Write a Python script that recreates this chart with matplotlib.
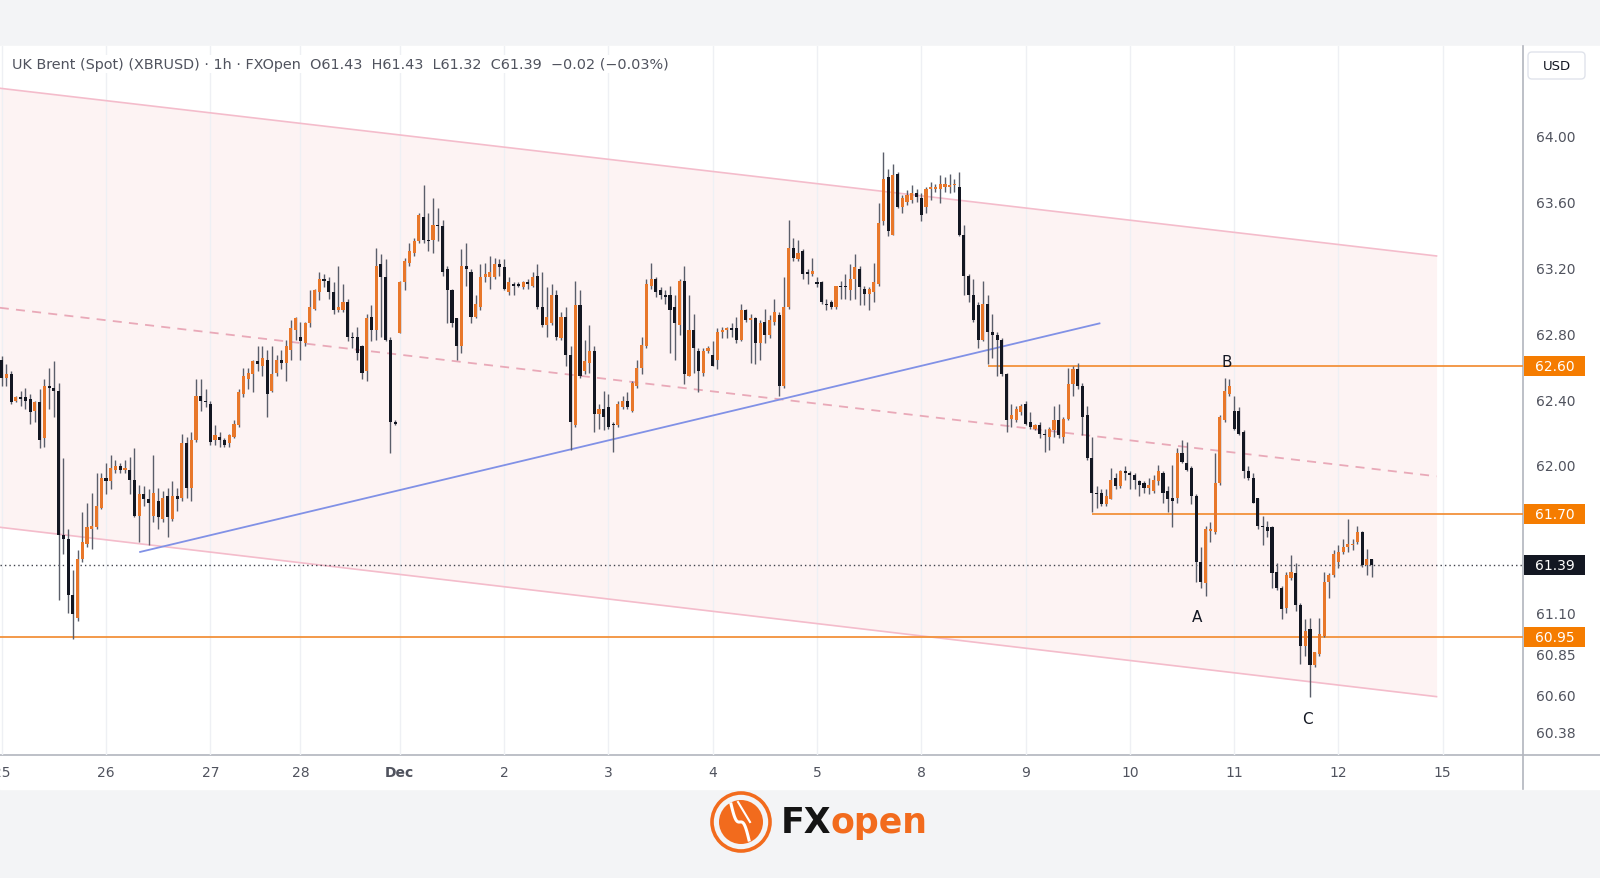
import numpy as np
import matplotlib
matplotlib.use("Agg")
import matplotlib.pyplot as plt
import matplotlib.transforms as mtransforms
from matplotlib.patches import Rectangle, FancyBboxPatch, Circle

plt.rcParams['font.family'] = ['DejaVu Sans']

# ---------------- data ----------------
session_labels = ["25", "26", "27", "28", "Dec", "2", "3", "4", "5", "8", "9", "10", "11", "12", "15"]
session_lengths = [22, 22, 19, 21, 22, 22, 22, 22, 22, 22, 22, 22, 22, 22]

opens = [
    62.64, 62.53, 62.55, 62.39, 62.41, 62.41, 62.40, 62.33, 62.38, 62.16, 62.48, 62.47, 62.45, 61.57, 61.55, 61.21, 61.07, 61.43, 61.52, 61.61, 61.62, 61.74,
    61.92, 61.90, 61.97, 61.99, 61.97, 61.97, 61.91, 61.69, 61.82, 61.79, 61.69, 61.78, 61.67, 61.81, 61.67, 61.81, 61.80, 62.13, 61.86, 62.15, 62.42, 62.39,
    62.37, 62.15, 62.17, 62.15, 62.13, 62.17, 62.24, 62.43, 62.52, 62.55, 62.63, 62.60, 62.64, 62.45, 62.56, 62.64, 62.62, 62.70, 62.82,
    62.78, 62.74, 62.86, 62.95, 63.05, 63.13, 63.12, 63.05, 62.94, 62.94, 62.99, 62.78, 62.78, 62.72, 62.57, 62.90, 62.82, 63.22, 63.14, 62.76, 62.26,
    62.80, 63.11, 63.23, 63.29, 63.36, 63.51, 63.37, 63.37, 63.46, 63.45, 63.19, 63.06, 62.89, 62.72, 63.21, 63.17, 62.90, 62.96, 63.14, 63.14, 63.14, 63.22,
    63.20, 63.05, 63.10, 63.10, 63.08, 63.11, 63.09, 63.15, 62.96, 62.85, 62.86, 63.03, 62.77, 62.90, 62.67, 62.24, 62.97, 62.57, 62.62, 62.69, 62.31, 62.34,
    62.35, 62.25, 62.24, 62.35, 62.39, 62.33, 62.48, 62.59, 62.72, 63.09, 63.13, 63.06, 63.03, 63.03, 62.96, 62.85, 63.12, 62.54, 62.82, 62.69, 62.56, 62.69,
    62.67, 62.64, 62.81, 62.82, 62.83, 62.83, 62.76, 62.94, 62.88, 62.89, 62.74, 62.87, 62.79, 62.87, 62.91, 62.48, 62.96, 63.32, 63.25, 63.30, 63.17, 63.16,
    63.11, 63.11, 62.98, 62.99, 62.96, 63.09, 63.09, 63.06, 63.13, 63.19, 63.07, 63.04, 63.05, 63.10, 63.48, 63.75, 63.40, 63.77, 63.57, 63.60, 63.61, 63.65,
    63.62, 63.57, 63.68, 63.68, 63.68, 63.69, 63.69, 63.70, 63.69, 63.40, 63.15, 63.03, 62.97, 62.76, 62.98, 62.81, 62.79, 62.76, 62.55, 62.28, 62.27, 62.32,
    62.37, 62.26, 62.22, 62.24, 62.19, 62.17, 62.21, 62.27, 62.17, 62.28, 62.49, 62.58, 62.48, 62.30, 62.04, 61.83, 61.83, 61.76, 61.79, 61.92, 61.87, 61.96,
    61.95, 61.94, 61.90, 61.89, 61.86, 61.84, 61.90, 61.95, 61.84, 61.80, 61.80, 62.07, 62.01, 61.98, 61.81, 61.41, 61.28, 61.60, 61.59, 61.89, 62.27, 62.43,
    62.33, 62.33, 62.20, 61.96, 61.92, 61.80, 61.63, 61.62, 61.62, 61.35, 61.25, 61.13, 61.31, 61.34, 61.15, 60.90, 61.00, 60.78, 60.85, 60.96, 61.29, 61.33,
    61.41, 61.47, 61.50, 61.51, 61.53, 61.59, 61.39, 61.43,
]
highs = [
    62.66, 62.61, 62.57, 62.42, 62.45, 62.47, 62.43, 62.39, 62.46, 62.52, 62.59, 62.63, 62.50, 62.04, 61.61, 61.36, 61.48, 61.71, 61.77, 61.83, 61.95, 61.95,
    62.01, 62.06, 62.03, 62.01, 62.03, 62.05, 62.10, 61.88, 61.87, 61.85, 62.06, 61.86, 61.84, 61.86, 61.90, 61.86, 62.19, 62.17, 62.20, 62.52, 62.52, 62.46,
    62.39, 62.24, 62.20, 62.16, 62.19, 62.27, 62.46, 62.59, 62.59, 62.64, 62.72, 62.72, 62.70, 62.72, 62.67, 62.70, 62.76, 62.88, 62.90,
    62.87, 62.87, 63.06, 63.07, 63.17, 63.16, 63.14, 63.11, 63.21, 63.10, 63.01, 62.81, 62.84, 62.73, 62.92, 62.97, 63.32, 63.28, 63.25, 62.78, 62.27,
    63.12, 63.26, 63.35, 63.38, 63.53, 63.70, 63.53, 63.62, 63.56, 63.49, 63.21, 63.07, 62.89, 63.31, 63.35, 63.19, 63.03, 63.22, 63.23, 63.27, 63.26, 63.25,
    63.25, 63.14, 63.11, 63.11, 63.12, 63.13, 63.17, 63.22, 63.17, 63.08, 63.10, 63.06, 62.93, 62.96, 62.72, 63.12, 63.06, 62.76, 62.85, 62.72, 62.37, 62.45,
    62.43, 62.26, 62.39, 62.42, 62.44, 62.51, 62.64, 62.78, 63.13, 63.23, 63.14, 63.08, 63.06, 63.09, 63.03, 63.13, 63.21, 63.03, 62.92, 62.71, 62.71, 62.72,
    62.75, 62.83, 62.84, 62.84, 62.86, 62.90, 62.98, 62.95, 62.92, 62.90, 62.88, 62.95, 62.91, 63.01, 62.93, 63.14, 63.49, 63.38, 63.37, 63.31, 63.19, 63.26,
    63.14, 63.12, 63.01, 63.00, 63.09, 63.12, 63.16, 63.22, 63.28, 63.21, 63.09, 63.08, 63.23, 63.59, 63.90, 63.80, 63.83, 63.78, 63.64, 63.67, 63.70, 63.68,
    63.65, 63.69, 63.72, 63.71, 63.76, 63.75, 63.77, 63.74, 63.78, 63.46, 63.16, 63.13, 62.99, 63.12, 63.03, 62.92, 62.81, 62.77, 62.56, 62.37, 62.36, 62.37,
    62.39, 62.32, 62.25, 62.26, 62.22, 62.23, 62.36, 62.37, 62.29, 62.59, 62.60, 62.62, 62.50, 62.36, 62.17, 61.87, 61.85, 61.85, 61.98, 61.95, 61.97, 61.99,
    61.96, 61.95, 61.91, 61.90, 61.92, 61.94, 62.00, 61.96, 61.87, 62.00, 62.10, 62.15, 62.14, 61.99, 61.82, 61.50, 61.63, 61.65, 62.07, 62.30, 62.53, 62.52,
    62.42, 62.35, 62.21, 61.99, 61.95, 61.80, 61.69, 61.66, 61.63, 61.40, 61.26, 61.35, 61.45, 61.40, 61.16, 61.06, 61.07, 60.86, 61.07, 61.35, 61.34, 61.48,
    61.51, 61.55, 61.67, 61.55, 61.63, 61.60, 61.49, 61.43,
]
lows = [
    62.48, 62.48, 62.37, 62.38, 62.36, 62.34, 62.25, 62.26, 62.10, 62.11, 62.34, 62.29, 61.18, 61.46, 61.10, 60.94, 61.05, 61.41, 61.50, 61.49, 61.61, 61.73,
    61.82, 61.85, 61.95, 61.95, 61.95, 61.82, 61.68, 61.53, 61.75, 61.51, 61.65, 61.61, 61.65, 61.56, 61.66, 61.72, 61.78, 61.80, 61.78, 62.14, 62.33, 62.35,
    62.12, 62.12, 62.11, 62.11, 62.11, 62.16, 62.23, 62.41, 62.46, 62.44, 62.57, 62.54, 62.29, 62.44, 62.54, 62.58, 62.51, 62.64, 62.76,
    62.64, 62.72, 62.84, 62.94, 63.00, 63.08, 63.01, 62.92, 62.93, 62.93, 62.75, 62.71, 62.64, 62.52, 62.51, 62.75, 62.76, 62.78, 62.75, 62.07, 62.24,
    62.80, 63.06, 63.21, 63.27, 63.35, 63.35, 63.30, 63.29, 63.36, 63.15, 62.86, 62.84, 62.64, 62.68, 63.09, 62.86, 62.89, 62.94, 63.11, 63.07, 63.13, 63.15,
    63.06, 63.03, 63.03, 63.08, 63.07, 63.07, 63.08, 62.95, 62.84, 62.78, 62.85, 62.76, 62.76, 62.60, 62.09, 62.23, 62.53, 62.55, 62.56, 62.20, 62.22, 62.21,
    62.22, 62.08, 62.23, 62.34, 62.34, 62.32, 62.47, 62.55, 62.71, 63.07, 63.02, 63.01, 62.98, 62.68, 62.64, 62.79, 62.49, 62.54, 62.56, 62.44, 62.54, 62.68,
    62.60, 62.58, 62.77, 62.77, 62.78, 62.74, 62.75, 62.87, 62.62, 62.61, 62.64, 62.74, 62.77, 62.85, 62.42, 62.47, 62.95, 63.24, 63.24, 63.13, 63.10, 63.15,
    63.08, 62.98, 62.94, 62.95, 62.95, 63.01, 63.01, 63.00, 63.01, 62.97, 62.97, 62.94, 62.99, 63.09, 63.46, 63.39, 63.40, 63.56, 63.53, 63.58, 63.59, 63.60,
    63.48, 63.53, 63.61, 63.66, 63.59, 63.66, 63.65, 63.66, 63.39, 63.03, 62.99, 62.87, 62.71, 62.75, 62.61, 62.65, 62.54, 62.54, 62.20, 62.23, 62.26, 62.30,
    62.24, 62.22, 62.21, 62.16, 62.08, 62.09, 62.17, 62.16, 62.13, 62.27, 62.42, 62.46, 62.18, 62.03, 61.71, 61.74, 61.75, 61.75, 61.79, 61.85, 61.86, 61.91,
    61.85, 61.85, 61.81, 61.83, 61.82, 61.83, 61.88, 61.77, 61.71, 61.62, 61.77, 62.01, 61.96, 61.76, 61.29, 61.25, 61.20, 61.53, 61.58, 61.88, 62.26, 62.42,
    62.21, 62.18, 61.92, 61.91, 61.77, 61.61, 61.51, 61.56, 61.25, 61.24, 61.06, 61.10, 61.30, 61.11, 60.79, 60.84, 60.59, 60.77, 60.84, 60.95, 61.19, 61.32,
    61.37, 61.46, 61.47, 61.48, 61.52, 61.38, 61.33, 61.32,
]
closes = [
    62.53, 62.55, 62.38, 62.41, 62.40, 62.39, 62.32, 62.38, 62.15, 62.48, 62.47, 62.45, 61.57, 61.55, 61.21, 61.09, 61.43, 61.53, 61.62, 61.63, 61.75, 61.92,
    61.90, 61.98, 61.99, 61.97, 61.98, 61.91, 61.69, 61.82, 61.79, 61.77, 61.83, 61.68, 61.80, 61.68, 61.81, 61.79, 62.13, 61.86, 62.15, 62.42, 62.39, 62.38,
    62.14, 62.18, 62.15, 62.12, 62.18, 62.25, 62.44, 62.54, 62.56, 62.63, 62.61, 62.65, 62.43, 62.55, 62.64, 62.62, 62.72, 62.83, 62.89,
    62.75, 62.86, 62.96, 63.06, 63.13, 63.12, 63.05, 62.94, 62.96, 62.99, 62.78, 62.77, 62.68, 62.56, 62.89, 62.82, 63.21, 63.14, 62.76, 62.26, 62.25,
    63.11, 63.24, 63.30, 63.36, 63.52, 63.37, 63.36, 63.46, 63.45, 63.17, 63.06, 62.86, 62.72, 63.21, 63.19, 62.90, 62.98, 63.14, 63.16, 63.17, 63.22, 63.20,
    63.07, 63.11, 63.09, 63.09, 63.11, 63.10, 63.14, 62.96, 62.85, 62.90, 63.03, 62.78, 62.90, 62.67, 62.26, 62.97, 62.54, 62.63, 62.69, 62.31, 62.34, 62.29,
    62.23, 62.24, 62.37, 62.39, 62.35, 62.50, 62.59, 62.73, 63.10, 63.13, 63.05, 63.03, 63.02, 62.94, 62.86, 63.12, 62.55, 62.82, 62.71, 62.57, 62.69, 62.71,
    62.60, 62.81, 62.82, 62.83, 62.82, 62.76, 62.94, 62.88, 62.89, 62.74, 62.86, 62.79, 62.88, 62.93, 62.48, 62.96, 63.32, 63.26, 63.29, 63.16, 63.16, 63.18,
    63.10, 62.99, 62.97, 62.96, 63.09, 63.08, 63.08, 63.13, 63.20, 63.08, 63.04, 63.07, 63.11, 63.47, 63.74, 63.42, 63.76, 63.57, 63.62, 63.64, 63.65, 63.63,
    63.52, 63.68, 63.69, 63.69, 63.71, 63.71, 63.70, 63.71, 63.40, 63.15, 63.03, 62.88, 62.76, 62.98, 62.81, 62.79, 62.76, 62.55, 62.27, 62.30, 62.34, 62.36,
    62.25, 62.23, 62.24, 62.19, 62.18, 62.22, 62.27, 62.18, 62.28, 62.49, 62.58, 62.48, 62.29, 62.04, 61.83, 61.82, 61.76, 61.81, 61.91, 61.87, 61.96, 61.95,
    61.94, 61.91, 61.88, 61.86, 61.88, 61.91, 61.96, 61.83, 61.79, 61.78, 62.07, 62.02, 61.97, 61.81, 61.41, 61.29, 61.61, 61.61, 61.89, 62.29, 62.45, 62.48,
    62.22, 62.19, 61.96, 61.92, 61.77, 61.63, 61.62, 61.60, 61.34, 61.25, 61.12, 61.33, 61.35, 61.15, 60.90, 60.99, 60.78, 60.86, 60.97, 61.29, 61.33, 61.46,
    61.47, 61.50, 61.52, 61.52, 61.59, 61.39, 61.43, 61.39,
]

price_ticks = [64.00, 63.60, 63.20, 62.80, 62.40, 62.00, 61.10, 60.85, 60.60, 60.38]
levels = [62.60, 61.70, 60.95]
level_start = [208, 230, -0.4]          # bar index where each horizontal ray starts

channel_x = [-0.4, 302.7]
channel_upper = [64.29, 63.27]
channel_lower = [61.62, 60.59]
trend_x = [29.2, 231.6]
trend_y = [61.47, 62.86]

wave_labels = ["A", "B", "C"]
wave_x = [252.2, 258.4, 275.4]
wave_y = [61.08, 62.63, 60.46]

header = "UK Brent (Spot) (XBRUSD) · 1h · FXOpen  O61.43  H61.43  L61.32  C61.39  −0.02 (−0.03%)"

# ---------------- style ----------------
UP = '#e8772a'
DOWN = '#131722'
WICK = '#5a5e6a'
ORANGE_LINE = '#f2913a'
ORANGE_BOX = '#f57c00'
PINK_LINE = '#f4bccb'
PINK_FILL = '#fdf3f3'
BLUE = '#8191e6'
GRID = '#eef0f4'
TXT = '#50535e'
AXLINE = '#b2b5be'
BAND = '#f3f4f6'

W, H = 1600, 879
fig = plt.figure(figsize=(W / 100, H / 100), dpi=100)

bg = fig.add_axes([0, 0, 1, 1])
bg.set_xlim(0, W)
bg.set_ylim(H, 0)
bg.axis('off')
bg.add_patch(Rectangle((0, 0), W, H, color=BAND, zorder=0))
bg.add_patch(Rectangle((0, 47), W, 743, color='white', zorder=1))
bg.plot([0, W], [756, 756], color=AXLINE, lw=1.2, zorder=3)
bg.plot([1523, 1523], [47, 790], color=AXLINE, lw=1.2, zorder=3)

x_right_px = 1523
ax = fig.add_axes([0, 1 - 756 / H, x_right_px / W, (756 - 47) / H])
ax.set_facecolor('none')
for s in ax.spines.values():
    s.set_visible(False)

n = len(closes)
idx = np.arange(n)
o = np.array(opens); h = np.array(highs); l = np.array(lows); c = np.array(closes)
assert len(o) == len(h) == len(l) == n

px_per_bar = 4.74
x_left = -0.36
x_right = x_left + x_right_px / px_per_bar
ax.set_xlim(x_left, x_right)
ax.set_ylim(60.235, 64.547)

starts = np.concatenate([[0], np.cumsum(session_lengths)])
for s in starts:
    ax.axvline(s, color=GRID, lw=1, zorder=0.6)

# channel
cx = np.array(channel_x)
cu = np.array(channel_upper)
cl = np.array(channel_lower)
ax.fill_between(cx, cl, cu, color=PINK_FILL, zorder=0.5, lw=0)
ax.plot(cx, cu, color=PINK_LINE, lw=1.2, zorder=1)
ax.plot(cx, cl, color=PINK_LINE, lw=1.2, zorder=1)
ax.plot(cx, (cu + cl) / 2, color='#e9a9b8', lw=1.3, ls=(0, (5, 4)), zorder=1)

# trendline
ax.plot(trend_x, trend_y, color=BLUE, lw=1.3, zorder=1.2)

# levels
for lv, st in zip(levels, level_start):
    ax.hlines(lv, st, x_right, color=ORANGE_LINE, lw=1.3, zorder=1.3)
ax.axhline(closes[-1], color='#3f424c', lw=1, ls=(0, (1, 2.2)), zorder=1.3)

# candles
up = c >= o
cols = np.where(up, UP, DOWN)
ax.vlines(idx, l, h, color=WICK, lw=1, zorder=2)
body = np.maximum(np.abs(c - o), 0.007)
ax.bar(idx, body, bottom=np.minimum(o, c), width=0.66, color=cols, lw=0, zorder=3)

# wave labels
for t, x, y in zip(wave_labels, wave_x, wave_y):
    ax.text(x, y, t, ha='center', va='center', fontsize=11, color='#131722', zorder=5)

# axes ticks
ax.set_xticks(starts)
ax.set_xticklabels(session_labels)
ax.tick_params(axis='x', length=0, pad=7, labelcolor=TXT, labelsize=10)
for lab in ax.get_xticklabels():
    if lab.get_text() == 'Dec':
        lab.set_fontweight('bold')
ax.yaxis.tick_right()
ax.set_yticks(price_ticks)
ax.set_yticklabels([f"{v:.2f}" for v in price_ticks])
ax.tick_params(axis='y', length=0, pad=9.5, labelcolor=TXT, labelsize=10)

# price label boxes on axis
blend = mtransforms.blended_transform_factory(bg.transData, ax.transData)
box_h = 0.122
for lv, fc in [(levels[0], ORANGE_BOX), (levels[1], ORANGE_BOX), (closes[-1], '#131722'), (levels[2], ORANGE_BOX)]:
    ax.add_patch(Rectangle((1524, lv - box_h / 2), 61, box_h, transform=blend, fc=fc, ec='none',
                           clip_on=False, zorder=10))
    ax.text(1555, lv, f"{lv:.2f}", transform=blend, ha='center', va='center', color='white',
            fontsize=10, clip_on=False, zorder=11)

# header (drawn above the day grid lines)
ax.text(12, 65, header, transform=bg.transData, ha='left', va='center', fontsize=10.4,
        color=TXT, zorder=20, clip_on=False,
        bbox=dict(boxstyle='square,pad=0.15', fc='white', ec='none'))

# USD box
bg.add_patch(FancyBboxPatch((1528, 53), 57, 27, boxstyle='round,pad=0,rounding_size=4',
                            fc='white', ec='#e0e3eb', lw=1, zorder=5))
bg.text(1556.5, 66.5, 'USD', ha='center', va='center', fontsize=9.5, color='#131722', zorder=6)

# logo
logo_orange = '#f26b1d'
bg.add_patch(Circle((741, 823), 29, fill=False, ec=logo_orange, lw=2.6, zorder=5))
bg.add_patch(Circle((741, 823), 22, fc=logo_orange, ec='none', zorder=5))
tt = np.linspace(0, 1, 50)
bg.plot(731 + 18 * tt, 805 + 36 * tt + 6 * np.sin(tt * 2 * np.pi), color='white', lw=2.2, zorder=6)
bg.plot(738 + 12 * tt, 803 + 20 * tt, color='white', lw=1.5, zorder=6)
t1 = bg.text(781, 823, 'FX', ha='left', va='center', fontsize=25, fontweight='heavy', color='#141414', zorder=6)
fig.canvas.draw()
bb = t1.get_window_extent(fig.canvas.get_renderer())
x_end = bg.transData.inverted().transform((bb.x1, bb.y0))[0]
bg.text(x_end - 1, 823, 'open', ha='left', va='center', fontsize=25, fontweight='heavy', color=logo_orange, zorder=6)

fig.savefig('out.png', dpi=100)
